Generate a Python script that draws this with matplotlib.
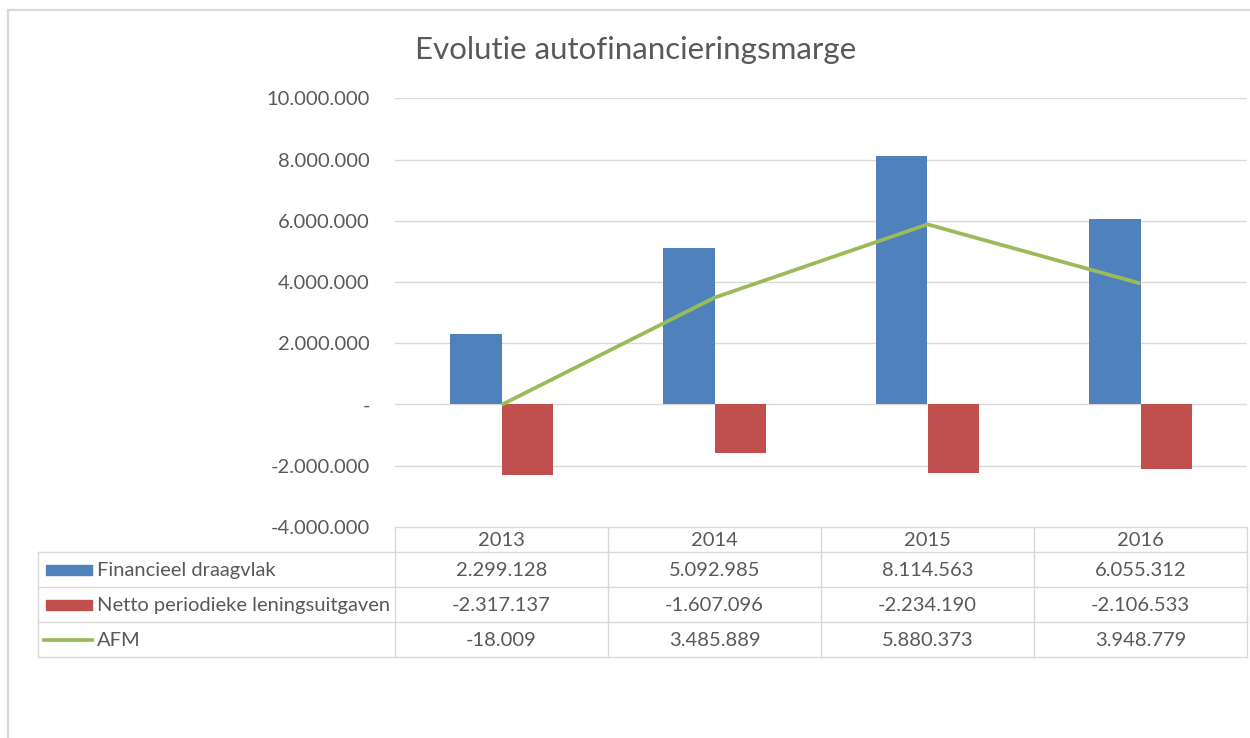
import numpy as np
import matplotlib
matplotlib.use("Agg")
import matplotlib.pyplot as plt
from matplotlib.lines import Line2D
from matplotlib.patches import Rectangle

# ---- data ----
years = ["2013", "2014", "2015", "2016"]
financieel = [2299128, 5092985, 8114563, 6055312]
netto = [-2317137, -1607096, -2234190, -2106533]
afm = [-18009, 3485889, 5880373, 3948779]
series_names = ["Financieel draagvlak", "Netto periodieke leningsuitgaven", "AFM"]
title = "Evolutie autofinancieringsmarge"
yticks = [-4000000, -2000000, 0, 2000000, 4000000, 6000000, 8000000, 10000000]

BLUE, RED, GREEN = "#4F81BD", "#C0504D", "#9BBB59"
TXT, GRID = "#595959", "#D9D9D9"

plt.rcParams["font.family"] = ["Lato", "DejaVu Sans"]

W, H = 1250, 738
fig = plt.figure(figsize=(W / 100, H / 100), dpi=100)
fig.patch.set_facecolor("white")


def fmt(v):
    if v == 0:
        return "-"
    return f"{v:,}".replace(",", ".")


# overlay in pixel coordinates for frame and data table
ov = fig.add_axes([0, 0, 1, 1], zorder=0)
ov.set_xlim(0, W)
ov.set_ylim(H, 0)
ov.axis("off")
ov.patch.set_alpha(0)

# chart frame
ov.add_line(Line2D([8, W], [10, 10], color=GRID, lw=1.6))
ov.add_line(Line2D([8, 8], [10, H], color=GRID, lw=1.6))

# plot axes
x0, x1 = 395, 1247
ytop, ybot = 98.3, 526.7
ax = fig.add_axes([x0 / W, 1 - ybot / H, (x1 - x0) / W, (ybot - ytop) / H], zorder=2)
ax.patch.set_alpha(0)
x = np.arange(len(years))
bw = 0.24
ax.bar(x - bw / 2, financieel, width=bw, color=BLUE, zorder=3)
ax.bar(x + bw / 2, netto, width=bw, color=RED, zorder=3)
ax.plot(x, afm, color=GREEN, lw=2.7, zorder=4, solid_capstyle="butt")
ax.set_xlim(-0.5, len(years) - 0.5)
ax.set_ylim(min(yticks), max(yticks))
ax.set_yticks(yticks)
ax.set_yticklabels([fmt(v) for v in yticks])
ax.tick_params(axis="y", length=0, pad=18, labelsize=14.5, labelcolor=TXT)
ax.set_xticks([])
for s in ax.spines.values():
    s.set_visible(False)
for v in yticks:
    if v != min(yticks):
        ax.axhline(v, color=GRID, lw=1.0, zorder=1)

fig.text(636 / W, 1 - 50 / H, title, ha="center", va="center", fontsize=22.5, color=TXT)

# data table
cols = np.linspace(x0, x1, len(years) + 1)
row_y = [526.7, 552, 587, 622, 657]
lx = 38
ov.add_line(Line2D([x0, x1], [row_y[0], row_y[0]], color=GRID, lw=1.0))
for yy in row_y[1:]:
    ov.add_line(Line2D([lx, x1], [yy, yy], color=GRID, lw=1.0))
for cx in cols:
    ov.add_line(Line2D([cx, cx], [row_y[0], row_y[-1]], color=GRID, lw=1.0))
ov.add_line(Line2D([lx, lx], [row_y[1], row_y[-1]], color=GRID, lw=1.0))

fs = 14.5
for i, yr in enumerate(years):
    ov.text((cols[i] + cols[i + 1]) / 2, (row_y[0] + row_y[1]) / 2 + 1, yr,
            ha="center", va="center", fontsize=fs, color=TXT)

table_rows = [financieel, netto, afm]
colors = [BLUE, RED, GREEN]
for r, (vals, name, c) in enumerate(zip(table_rows, series_names, colors)):
    yc = (row_y[r + 1] + row_y[r + 2]) / 2
    if r < 2:
        ov.add_patch(Rectangle((46, yc - 5), 46, 10, color=c))
    else:
        ov.add_line(Line2D([44, 92], [yc, yc], color=c, lw=2.7))
    ov.text(97, yc + 1, name, ha="left", va="center", fontsize=fs, color=TXT)
    for i, v in enumerate(vals):
        ov.text((cols[i] + cols[i + 1]) / 2, yc + 1, fmt(v),
                ha="center", va="center", fontsize=fs, color=TXT)

fig.savefig("out.png", dpi=100, facecolor="white")
